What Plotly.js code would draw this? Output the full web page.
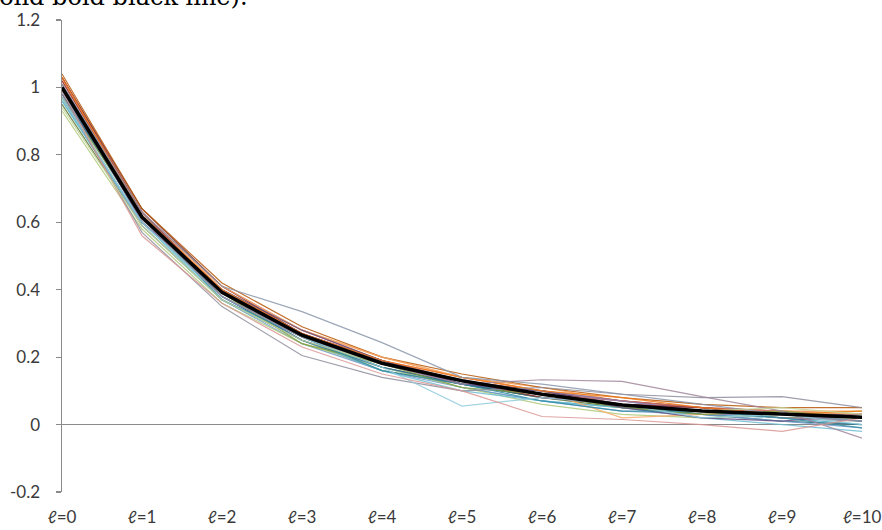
<!DOCTYPE html>
<html>
<head>
<meta charset="utf-8">
<script src="https://cdn.plot.ly/plotly-3.0.1.min.js"></script>
<style>html,body{margin:0;padding:0;background:#fff;}#chart{width:882px;height:530px;}</style>
</head>
<body>
<div id="chart"></div>
<script>
var categories = [0,1,2,3,4,5,6,7,8,9,10];
var xLabels = ["ℓ=0","ℓ=1","ℓ=2","ℓ=3","ℓ=4","ℓ=5","ℓ=6","ℓ=7","ℓ=8","ℓ=9","ℓ=10"];
var yTickVals = [-0.2,0,0.2,0.4,0.6,0.8,1,1.2];
var yTickText = ["-0.2","0","0.2","0.4","0.6","0.8","1","1.2"];

var s01 = [1.01,0.62,0.40,0.27,0.18,0.13,0.09,0.07,0.04,0.03,0.02];
var s02 = [1.03,0.63,0.41,0.28,0.19,0.14,0.10,0.06,0.05,0.04,0.03];
var s03 = [0.97,0.60,0.38,0.26,0.17,0.12,0.09,0.05,0.04,0.02,0.01];
var s04 = [0.99,0.61,0.39,0.25,0.18,0.12,0.08,0.06,0.03,0.03,0.02];
var s05 = [0.96,0.60,0.38,0.25,0.17,0.11,0.07,0.05,0.03,0.02,0.00];
var s06 = [1.02,0.63,0.40,0.28,0.20,0.14,0.11,0.07,0.05,0.04,0.04];
var s07 = [1.00,0.62,0.39,0.26,0.18,0.13,0.09,0.06,0.04,0.03,0.02];
var s08 = [1.03,0.64,0.41,0.27,0.19,0.13,0.10,0.07,0.05,0.03,0.02];
var s09 = [0.95,0.59,0.37,0.25,0.16,0.12,0.08,0.05,0.04,0.02,0.02];
var s10 = [1.00,0.61,0.40,0.27,0.19,0.12,0.10,0.06,0.05,0.03,0.03];
var s11 = [0.98,0.62,0.38,0.26,0.17,0.12,0.08,0.06,0.03,0.01,0.00];
var s12 = [1.04,0.64,0.42,0.29,0.20,0.15,0.11,0.08,0.06,0.05,0.05];
var s13 = [0.97,0.59,0.37,0.24,0.16,0.11,0.07,0.04,0.03,0.01,-0.01];
var s14 = [1.02,0.62,0.40,0.27,0.19,0.13,0.09,0.07,0.05,0.04,0.03];
var s15 = [0.93,0.58,0.36,0.24,0.17,0.11,0.06,0.03,0.02,0.03,0.04];
var s16 = [0.99,0.63,0.39,0.26,0.18,0.12,0.10,0.07,0.04,0.02,0.01];
var s17 = [0.96,0.60,0.37,0.25,0.16,0.10,0.07,0.05,0.02,0.00,-0.02];
var s18 = [1.01,0.61,0.41,0.28,0.20,0.14,0.10,0.02,0.03,0.04,0.03];
var s19 = [0.98,0.61,0.38,0.25,0.17,0.12,0.09,0.06,0.04,0.03,0.01];
var s20 = [1.02,0.63,0.39,0.27,0.18,0.13,0.08,0.06,0.05,0.03,0.02];
var s21 = [0.97,0.62,0.39,0.24,0.18,0.11,0.09,0.05,0.03,0.04,0.02];
var s22 = [1.01,0.60,0.40,0.28,0.19,0.12,0.10,0.05,0.02,0.01,0.03];
var s23 = [0.99,0.62,0.37,0.26,0.16,0.12,0.07,0.04,0.04,0.02,-0.01];
var s24 = [1.03,0.62,0.40,0.27,0.19,0.14,0.10,0.08,0.05,0.03,0.04];
var s25 = [1.01,0.63,0.41,0.335,0.243,0.14,0.12,0.09,0.06,0.03,0.01];
var s26 = [0.98,0.57,0.35,0.205,0.14,0.10,0.11,0.09,0.08,0.083,0.05];
var s27 = [0.97,0.60,0.38,0.26,0.17,0.055,0.08,0.06,0.02,0.03,0.00];
var s28 = [1.00,0.61,0.38,0.26,0.18,0.12,0.133,0.128,0.083,0.04,-0.04];
var s29 = [0.99,0.56,0.36,0.23,0.15,0.10,0.024,0.015,0.00,-0.02,0.02];
var s30 = [0.94,0.59,0.37,0.25,0.18,0.13,0.09,0.06,0.04,0.05,0.03];
var meanLine = [1.0,0.615,0.392,0.265,0.182,0.13,0.09,0.058,0.04,0.03,0.022];

var series = [s01,s02,s03,s04,s05,s06,s07,s08,s09,s10,s11,s12,s13,s14,s15,
              s16,s17,s18,s19,s20,s21,s22,s23,s24,s25,s26,s27,s28,s29,s30];
var colors = ["#4F81BD","#C0504D","#9BBB59","#8064A2","#4BACC6","#F79646",
              "#2C4D75","#772C2A","#5F7530","#4D3B62","#276A7C","#B65708",
              "#729ACA","#CD7371","#AFC97A","#9983B5","#6FBDD1","#F9AB6B",
              "#3A679C","#9F3B38","#7E9D40","#664F83","#358EA6","#F47C19",
              "#8C96AA","#8E8E9E","#93CDDD","#A0869A","#D99694","#C3D69B"];

var traces = series.map(function(s, i){
  return {x: categories, y: s, type: 'scatter', mode: 'lines',
          line: {color: colors[i], width: 1.2}, opacity: 0.85, hoverinfo: 'skip'};
});
traces.push({x: categories, y: meanLine, type: 'scatter', mode: 'lines',
             line: {color: '#000000', width: 3.5}});

var tf = {family: 'Lato, "Open Sans", sans-serif', size: 17, color: '#3a3a3a'};
var layout = {
  width: 882, height: 530,
  margin: {l: 62, r: 20, t: 20, b: 38},
  paper_bgcolor: '#ffffff', plot_bgcolor: '#ffffff',
  showlegend: false,
  font: tf,
  xaxis: {
    range: [0, 10], tickvals: categories, ticktext: xLabels,
    showgrid: false, zeroline: false, showline: false,
    ticks: 'outside', ticklen: 10, tickcolor: 'rgba(0,0,0,0)',
    tickfont: tf
  },
  yaxis: {
    range: [-0.2, 1.2], tickvals: yTickVals, ticktext: yTickText,
    showgrid: false, showline: true, linecolor: '#8a8a8a', linewidth: 1.5,
    zeroline: true, zerolinecolor: '#8a8a8a', zerolinewidth: 1.5,
    ticks: 'outside', ticklen: 5, tickcolor: '#8a8a8a', tickwidth: 1.2,
    ticklabelstandoff: 12,
    tickfont: tf
  },
  annotations: [{
    text: 'solid bold black line).', xref: 'paper', yref: 'paper',
    x: 0.235, y: 1.0148, xanchor: 'right', yanchor: 'bottom', showarrow: false,
    font: {family: '"DejaVu Serif", "Liberation Serif", serif', size: 24, color: '#000'}
  }]
};
Plotly.newPlot('chart', traces, layout, {staticPlot: true});
</script>
</body>
</html>
